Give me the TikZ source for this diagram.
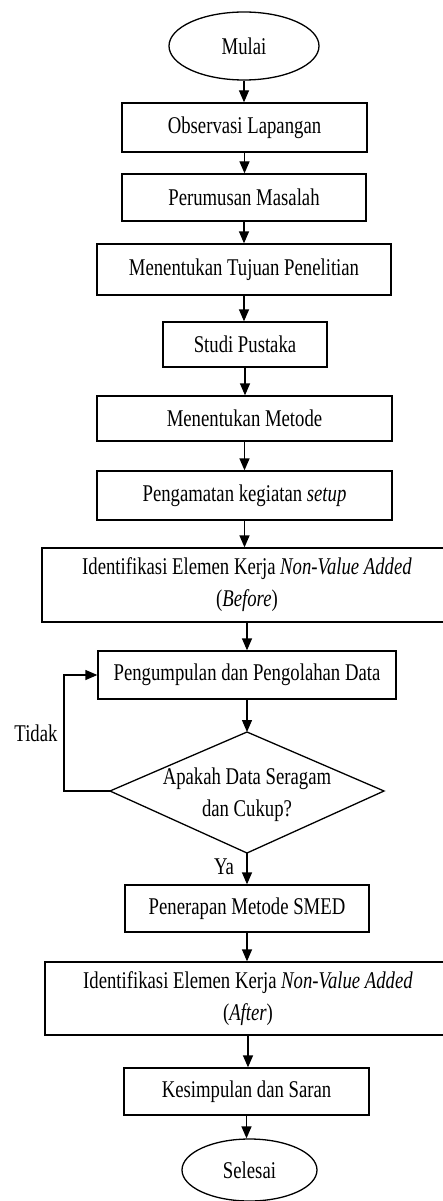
\documentclass[tikz,border=0pt]{standalone}
\usepackage{fontspec}
\setmainfont{Liberation Serif}[FakeStretch=0.78]
\usetikzlibrary{arrows.meta,shapes.geometric}
\begin{document}
\begin{tikzpicture}[x=1pt,y=-1pt,
  font=\fontsize{24}{32}\selectfont,
  line width=1.3pt,
  proc/.style={draw, rectangle, inner sep=0pt, align=center},
  term/.style={draw, ellipse, inner sep=0pt},
  arr/.style={-{Triangle[length=12pt,width=10pt]}},
  lbl/.style={inner sep=0pt}]
\useasboundingbox (0,0) rectangle (442,1201);
\node[term, minimum width=150pt, minimum height=68pt] (mulai) at (244,46) {Mulai};
\node[proc, minimum width=245pt, minimum height=49pt] (obs) at (244.5,127.5) {Observasi Lapangan};
\node[proc, minimum width=244pt, minimum height=47pt] (rum) at (244,197.5) {Perumusan Masalah};
\node[proc, minimum width=294pt, minimum height=51pt] (tuj) at (244,269.5) {Menentukan Tujuan Penelitian};
\node[proc, minimum width=164pt, minimum height=45pt] (stu) at (245,344.5) {Studi Pustaka};
\node[proc, minimum width=295pt, minimum height=45pt] (met) at (244.5,418.5) {Menentukan Metode};
\node[proc, minimum width=295pt, minimum height=49pt] (set) at (244.5,495.5) {Pengamatan kegiatan \textit{setup}};
\node[proc, minimum width=410pt, minimum height=74pt] (id1) at (247,585) {Identifikasi Elemen Kerja \textit{Non-Value Added}\\(\textit{Before})};
\node[proc, minimum width=298pt, minimum height=48pt] (peng) at (247,675) {Pengumpulan dan Pengolahan Data};
% decision diamond
\coordinate (dt) at (247,732);
\coordinate (db) at (247,853);
\coordinate (dl) at (110,791);
\coordinate (dr) at (384,791);
\draw (dt) -- (dr) -- (db) -- (dl) -- cycle;
\node[lbl, align=center] (dec) at (247,795) {Apakah Data Seragam\\dan Cukup?};
\node[proc, minimum width=244pt, minimum height=47pt] (pen) at (247,908.5) {Penerapan Metode SMED};
\node[proc, minimum width=406pt, minimum height=73pt] (id2) at (248,998.5) {Identifikasi Elemen Kerja \textit{Non-Value Added}\\(\textit{After})};
\node[proc, minimum width=245pt, minimum height=47pt] (kes) at (246.5,1091.5) {Kesimpulan dan Saran};
\node[term, minimum width=135pt, minimum height=62pt] (sel) at (249.5,1170) {Selesai};
\node[lbl] (tidak) at (36,733) {Tidak};
\node[lbl] (ya) at (224,867) {Ya};
% connectors
\draw[arr] (mulai.south) -- (mulai.south |- obs.north);
\draw[arr] (obs.south) -- (obs.south |- rum.north);
\draw[arr] (rum.south) -- (rum.south |- tuj.north);
\draw[arr] (tuj.south) -- (tuj.south |- stu.north);
\draw[arr] (stu.south) -- (stu.south |- met.north);
\draw[arr] (met.south) -- (met.south |- set.north);
\draw[arr] (set.south) -- (set.south |- id1.north);
\draw[arr] (id1.south) -- (id1.south |- peng.north);
\draw[arr] (peng.south) -- (dt);
\draw[arr] (db) -- (db |- pen.north);
\draw[arr] (dl) -- ++(-46,0) |- (peng.west);
\draw[arr] (pen.south) -- (pen.south |- id2.north);
\draw[arr] (id2.south) -- (id2.south |- kes.north);
\draw[arr] (kes.south) -- (kes.south |- sel.north);
\end{tikzpicture}
\end{document}
